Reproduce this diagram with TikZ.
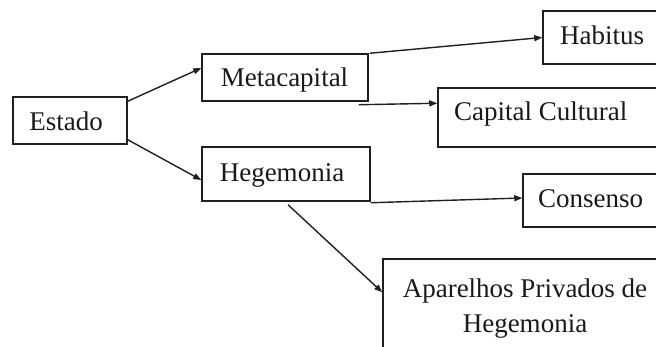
\documentclass[tikz,border=0pt]{standalone}
\usepackage{fontspec}
\setmainfont{Liberation Serif}
\usetikzlibrary{arrows.meta}
\begin{document}
\begin{tikzpicture}[x=1pt,y=-1pt,
  box/.style={draw=black!88, line width=1.5pt, inner sep=0pt},
  lbl/.style={inner sep=0pt, text=black!90, font=\fontsize{27}{33}\selectfont},
  arr/.style={draw=black!88, line width=1.4pt, -{Triangle[length=8pt,width=6pt]}}]
\useasboundingbox (0,0) rectangle (656,347);
\clip (0,0) rectangle (656,347);
% boxes
\node[box, minimum width=114pt, minimum height=47pt] (Estado) at (70,120.5) {};
\node[box, minimum width=166pt, minimum height=47pt] (Meta) at (285,77.5) {};
\node[box, minimum width=168pt, minimum height=54pt] (Hege) at (286,174) {};
\node[box, minimum width=127pt, minimum height=53pt] (Habitus) at (606.5,37.5) {};
\node[box, minimum width=232pt, minimum height=59pt] (CapCult) at (554,117.5) {};
\node[box, minimum width=147pt, minimum height=53pt] (Consenso) at (596.5,200.5) {};
\node[box, minimum width=284pt, minimum height=101pt] (Apar) at (525,309.5) {};
% texts
\node[lbl, anchor=base] (tEstado) at (66,131) {Estado};
\node[lbl, anchor=base] (tMeta) at (284.5,87) {Metacapital};
\node[lbl, anchor=base] (tHege) at (282,182) {Hegemonia};
\node[lbl, anchor=base west] (tHabitus) at (560,45) {Habitus};
\node[lbl, anchor=base west] (tCapCult) at (454,121) {Capital Cultural};
\node[lbl, anchor=base west] (tConsenso) at (538,208) {Consenso};
\node[lbl, anchor=base] (tApar1) at (525,298) {Aparelhos Privados de};
\node[lbl, anchor=base] (tApar2) at (525,333) {Hegemonia};
% connectors
\draw[arr] ([yshift=-5pt]Estado.north east) -- ([yshift=9.5pt]Meta.west);
\draw[arr] ([yshift=5pt]Estado.south east) -- ([yshift=-6pt]Hege.west);
\draw[arr] ([xshift=1pt]Meta.north east) -- (Habitus.west);
\draw[arr] ([xshift=-10pt,yshift=-3pt]Meta.south east) -- ([yshift=-16pt]CapCult.north west);
\draw[arr] ([yshift=-1pt]Hege.south east) -- ([yshift=2.5pt]Consenso.west);
\draw[arr] ([xshift=2pt,yshift=-3pt]Hege.south) -- ([yshift=-34pt]Apar.north west);
\end{tikzpicture}
\end{document}
